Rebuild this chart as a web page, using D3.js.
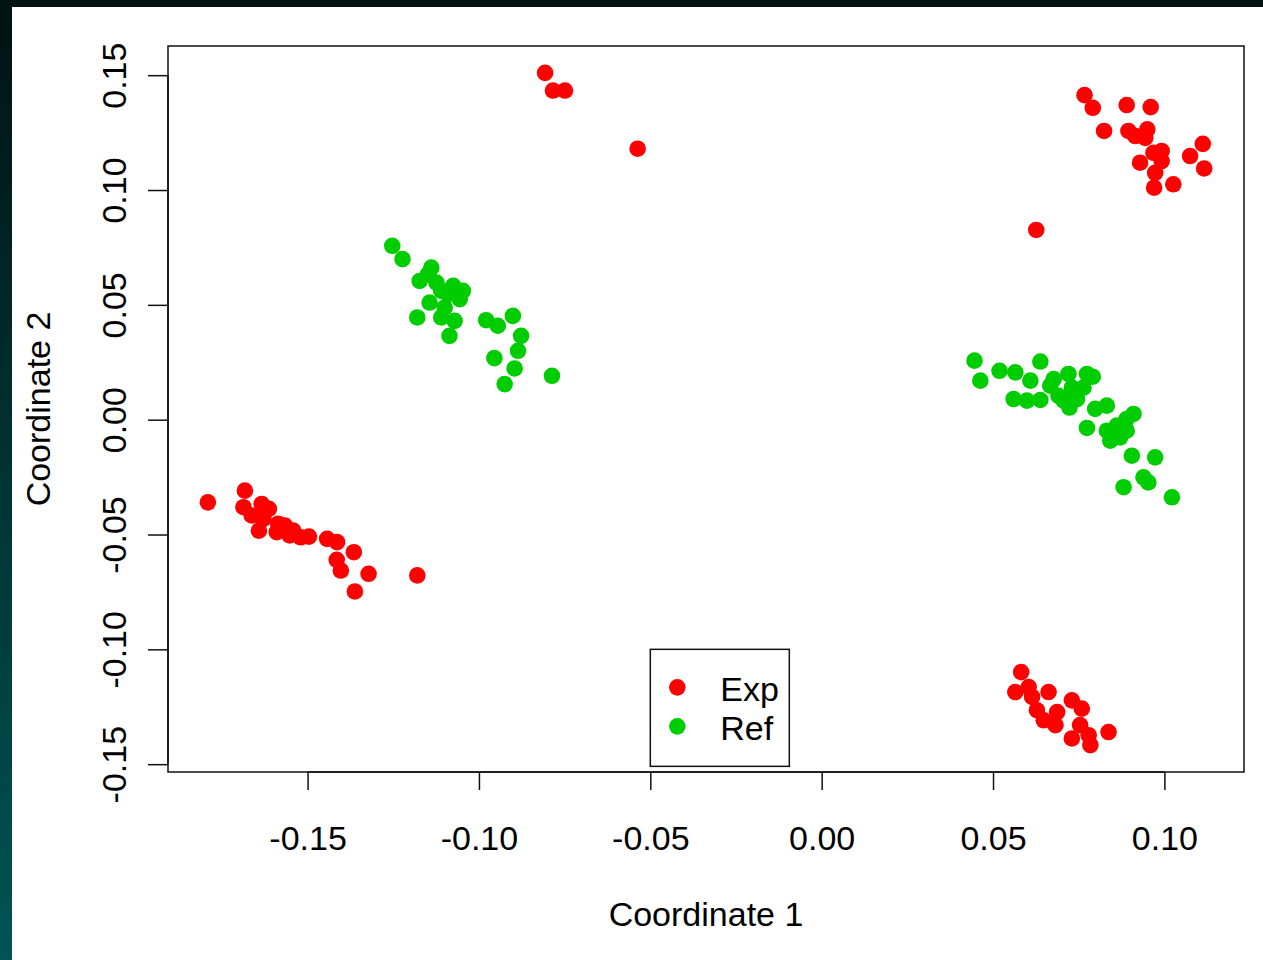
<!DOCTYPE html>
<html>
<head>
<meta charset="utf-8">
<script src="https://cdn.jsdelivr.net/npm/d3@7"></script>
<style>
  body { margin: 0; background: #000; }
  text { font-family: "Liberation Sans", Arial, sans-serif; fill: #000; }
</style>
</head>
<body>
<div id="mds-plot"></div>
<script>
// group names + colours (R palette 2 and 3)
const groups = ["Exp", "Ref"];
const groupColors = ["#FF0000", "#00CD00"];

// Exp samples: [coordinate 1, coordinate 2]
const expPoints = [
  [-0.1791, -0.0360], [-0.1683, -0.0309], [-0.1687, -0.0381], [-0.1634, -0.0367],
  [-0.1613, -0.0388], [-0.1663, -0.0417], [-0.1629, -0.0432], [-0.1642, -0.0483],
  [-0.1586, -0.0453], [-0.1590, -0.0490], [-0.1566, -0.0461], [-0.1542, -0.0483],
  [-0.1552, -0.0504], [-0.1520, -0.0512], [-0.1496, -0.0509], [-0.1443, -0.0519],
  [-0.1414, -0.0533], [-0.1365, -0.0577], [-0.1415, -0.0610], [-0.1403, -0.0657],
  [-0.1322, -0.0671], [-0.1362, -0.0748], [-0.1180, -0.0678],
  [-0.0807, 0.1510], [-0.0784, 0.1433], [-0.0749, 0.1433], [-0.0537, 0.1180],
  [0.0767, 0.1413], [0.0791, 0.1358], [0.0890, 0.1370], [0.0960, 0.1361],
  [0.0824, 0.1257], [0.0895, 0.1257], [0.0915, 0.1235], [0.0950, 0.1264],
  [0.0944, 0.1227], [0.0968, 0.1162], [0.0992, 0.1170], [0.0992, 0.1126],
  [0.0929, 0.1119], [0.0973, 0.1075], [0.0970, 0.1010], [0.1026, 0.1025],
  [0.1075, 0.1148], [0.1112, 0.1201], [0.1116, 0.1094], [0.0626, 0.0826],
  [0.0582, -0.1099], [0.0565, -0.1186], [0.0604, -0.1164], [0.0614, -0.1207],
  [0.0662, -0.1186], [0.0628, -0.1265], [0.0648, -0.1309], [0.0687, -0.1273],
  [0.0682, -0.1330], [0.0730, -0.1222], [0.0759, -0.1258], [0.0754, -0.1330],
  [0.0730, -0.1388], [0.0779, -0.1374], [0.0784, -0.1417], [0.0837, -0.1360]
];

// Ref samples: [coordinate 1, coordinate 2]
const refPoints = [
  [-0.1253, 0.0757], [-0.1223, 0.0699], [-0.1139, 0.0662], [-0.1173, 0.0604],
  [-0.1149, 0.0633], [-0.1124, 0.0597], [-0.1110, 0.0561], [-0.1047, 0.0561],
  [-0.1056, 0.0525], [-0.1090, 0.0547], [-0.1144, 0.0510], [-0.1100, 0.0488],
  [-0.1071, 0.0430], [-0.1086, 0.0365], [-0.1110, 0.0445], [-0.1180, 0.0445],
  [-0.1075, 0.0583], [-0.0979, 0.0433], [-0.0945, 0.0409], [-0.0901, 0.0452],
  [-0.0877, 0.0365], [-0.0886, 0.0300], [-0.0955, 0.0268], [-0.0896, 0.0223],
  [-0.0925, 0.0155], [-0.0787, 0.0191],
  [0.0446, 0.0257], [0.0463, 0.0170], [0.0519, 0.0213], [0.0565, 0.0206],
  [0.0638, 0.0253], [0.0609, 0.0170], [0.0560, 0.0090], [0.0599, 0.0083],
  [0.0638, 0.0086], [0.0667, 0.0148], [0.0677, 0.0177], [0.0691, 0.0104],
  [0.0720, 0.0199], [0.0730, 0.0140], [0.0706, 0.0083], [0.0723, 0.0053],
  [0.0745, 0.0090], [0.0774, 0.0199], [0.0791, 0.0187], [0.0764, 0.0140],
  [0.0798, 0.0047], [0.0832, 0.0061], [0.0774, -0.0036], [0.0832, -0.0048],
  [0.0861, -0.0026], [0.0890, 0.0003], [0.0910, 0.0025], [0.0842, -0.0091],
  [0.0871, -0.0077], [0.0890, -0.0048], [0.0905, -0.0157], [0.0973, -0.0164],
  [0.0939, -0.0251], [0.0953, -0.0273], [0.0881, -0.0294], [0.1022, -0.0338]
];

const xTicks = [-0.15, -0.10, -0.05, 0.00, 0.05, 0.10];
const yTicks = [-0.15, -0.10, -0.05, 0.00, 0.05, 0.10, 0.15];
const xLabel = "Coordinate 1";
const yLabel = "Coordinate 2";

function mdsPlot () {
  const svgWidth = 1263;
  const svgHeight = 960;
  const margin = { top: 46, right: 19, bottom: 188, left: 168 };
  const width = svgWidth - margin.left - margin.right;
  const height = svgHeight - margin.top - margin.bottom;
  const fontSize = 34;
  // plain hyphen, like R prints it
  const fmt = d => d.toFixed(2);

  const svg = d3.select("#mds-plot")
    .append("svg")
    .attr("width", svgWidth)
    .attr("height", svgHeight);

  // dark frame with the teal fade on the left edge
  const grad = svg.append("defs").append("linearGradient")
    .attr("id", "edge")
    .attr("x1", 0).attr("y1", 0).attr("x2", 0).attr("y2", 1);
  grad.append("stop").attr("offset", "0%").attr("stop-color", "#011212");
  grad.append("stop").attr("offset", "100%").attr("stop-color", "#005454");
  svg.append("rect")
    .attr("width", svgWidth).attr("height", svgHeight)
    .attr("fill", "url(#edge)");
  svg.append("rect")
    .attr("x", 0).attr("y", 0).attr("width", svgWidth).attr("height", 7)
    .attr("fill", "#011414");
  svg.append("rect")
    .attr("x", 12).attr("y", 7)
    .attr("width", svgWidth - 12).attr("height", svgHeight - 7)
    .attr("fill", "#fff");

  // R style limits: data range stretched 4% each side
  const all = expPoints.concat(refPoints);
  const pad = ext => { const d = (ext[1] - ext[0]) * 0.04; return [ext[0] - d, ext[1] + d]; };
  const x = d3.scaleLinear()
    .domain(pad(d3.extent(all, d => d[0])))
    .range([margin.left, margin.left + width]);
  const y = d3.scaleLinear()
    .domain(pad(d3.extent(all, d => d[1])))
    .range([margin.top + height, margin.top]);

  // axes
  const xAxis = svg.append("g")
    .attr("transform", `translate(0, ${margin.top + height})`)
    .call(d3.axisBottom(x).tickValues(xTicks).tickSize(18).tickPadding(36)
      .tickFormat(fmt));
  xAxis.select(".domain")
    .attr("d", `M${x(xTicks[0])},0H${x(xTicks[xTicks.length - 1])}`);
  xAxis.selectAll("line, path").attr("stroke", "#111").attr("stroke-width", 1.5);
  xAxis.selectAll("text")
    .attr("font-size", fontSize)
    .attr("font-family", null)
    .attr("fill", "#000");

  const yAxis = svg.append("g")
    .attr("transform", `translate(${margin.left}, 0)`)
    .call(d3.axisLeft(y).tickValues(yTicks).tickSize(20).tickFormat(fmt));
  yAxis.select(".domain")
    .attr("d", `M0,${y(yTicks[0])}V${y(yTicks[yTicks.length - 1])}`);
  yAxis.selectAll("line, path").attr("stroke", "#111").attr("stroke-width", 1.5);
  yAxis.selectAll("text")
    .attr("font-size", fontSize)
    .attr("font-family", null)
    .attr("fill", "#000")
    .attr("x", null).attr("dy", null)
    .attr("text-anchor", "middle")
    .attr("transform", "translate(-42, 0) rotate(-90)");

  // plot box
  svg.append("rect")
    .attr("x", margin.left).attr("y", margin.top)
    .attr("width", width).attr("height", height)
    .attr("fill", "none")
    .attr("stroke", "#111")
    .attr("stroke-width", 1.5);

  // points
  const series = [expPoints, refPoints];
  series.forEach((pts, i) => {
    svg.append("g").selectAll("circle")
      .data(pts)
      .enter()
      .append("circle")
      .attr("cx", d => x(d[0]))
      .attr("cy", d => y(d[1]))
      .attr("r", 8.3)
      .attr("fill", groupColors[i]);
  });

  // axis titles
  svg.append("text")
    .attr("x", margin.left + width / 2)
    .attr("y", 926)
    .attr("text-anchor", "middle")
    .attr("font-size", fontSize)
    .text(xLabel);
  svg.append("text")
    .attr("transform", `translate(50, ${margin.top + height / 2}) rotate(-90)`)
    .attr("text-anchor", "middle")
    .attr("font-size", fontSize)
    .text(yLabel);

  // legend, top-left corner sits at (-0.05, -0.10)
  const lx = x(-0.05);
  const ly = y(-0.10);
  const legend = svg.append("g").attr("transform", `translate(${lx}, ${ly})`);
  legend.append("rect")
    .attr("width", 139).attr("height", 117)
    .attr("fill", "#fff")
    .attr("stroke", "#111")
    .attr("stroke-width", 1.5);
  groups.forEach((g, i) => {
    legend.append("circle")
      .attr("cx", 27).attr("cy", 38 + i * 39)
      .attr("r", 8.3)
      .attr("fill", groupColors[i]);
    legend.append("text")
      .attr("x", 70).attr("y", 52 + i * 39)
      .attr("font-size", fontSize)
      .text(g);
  });
}

mdsPlot();
</script>
</body>
</html>
